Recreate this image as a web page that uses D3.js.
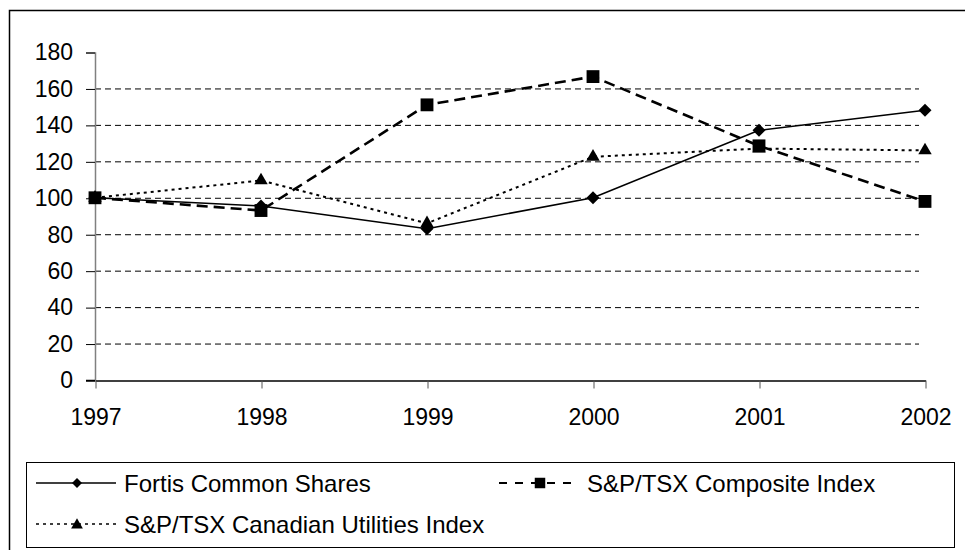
<!DOCTYPE html>
<html>
<head>
<meta charset="utf-8">
<script src="https://cdn.jsdelivr.net/npm/d3@7"></script>
<style>
  body { margin: 0; background: #fff; }
  svg { display: block; font-family: "Liberation Sans", Arial, sans-serif; }
</style>
</head>
<body>
<script>
// data
const years = [1997, 1998, 1999, 2000, 2001, 2002];
const fortis = [100, 95.5, 83, 100, 137, 148];
const composite = [100, 93, 151, 166.5, 128.5, 98];
const utilities = [100, 109.5, 86, 122.5, 127, 126];
const yTicks = [0, 20, 40, 60, 80, 100, 120, 140, 160, 180];

const width = 965, height = 550;

const series = [
  { name: "Fortis Common Shares", values: fortis, dash: null, sw: 1.6, marker: "diamond" },
  { name: "S&P/TSX Composite Index", values: composite, dash: "11,6", sw: 2.6, marker: "square" },
  { name: "S&P/TSX Canadian Utilities Index", values: utilities, dash: "3,4", sw: 2, marker: "triangle" }
];

const x = d3.scaleLinear().domain([1997, 2002]).range([95, 925]);
const y = d3.scaleLinear().domain([0, 180]).range([380, 52]);

const svg = d3.select("body").append("svg")
  .attr("width", width)
  .attr("height", height);

// chart border (right and bottom edges fall outside the window)
svg.append("rect")
  .attr("x", 9.5).attr("y", 10.5)
  .attr("width", 962).attr("height", 550)
  .attr("fill", "none").attr("stroke", "#000").attr("stroke-width", 1.5);

// gridlines
svg.append("g")
  .selectAll("line")
  .data(yTicks.filter(d => d > 0 && d < 180))
  .join("line")
  .attr("x1", x(1997)).attr("x2", x(2002) - 6)
  .attr("y1", d => y(d) + 0.5).attr("y2", d => y(d) + 0.5)
  .attr("stroke", "#000").attr("stroke-width", 1)
  .attr("stroke-dasharray", "6,4");

// y axis
const yAxis = svg.append("g")
  .attr("transform", `translate(${x(1997)},0.5)`)
  .call(d3.axisLeft(y).tickValues(yTicks).tickSize(9).tickPadding(13));
yAxis.select(".domain").attr("stroke", "#808080").attr("stroke-width", 1.5);
yAxis.selectAll(".tick line").attr("stroke", "#000");
yAxis.selectAll(".tick text")
  .attr("font-size", 23).attr("font-family", "Liberation Sans, Arial, sans-serif")
  .attr("fill", "#000");

// x axis
const xAxis = svg.append("g")
  .attr("transform", `translate(0.5,${y(0) + 0.5})`)
  .call(d3.axisBottom(x).tickValues(years).tickFormat(d3.format("d")).tickSize(8).tickPadding(20).tickSizeOuter(0));
xAxis.select(".domain").attr("stroke", "#000").attr("stroke-width", 1.5);
xAxis.selectAll(".tick line").attr("stroke", "#555");
xAxis.selectAll(".tick text")
  .attr("font-size", 23).attr("font-family", "Liberation Sans, Arial, sans-serif")
  .attr("fill", "#000");
// stub to the left of the x axis (the 0 tick)
svg.append("line")
  .attr("x1", 86).attr("x2", x(1997))
  .attr("y1", y(0) + 0.5).attr("y2", y(0) + 0.5)
  .attr("stroke", "#000").attr("stroke-width", 1.5);

// marker shapes
const rhombus = {
  draw(ctx, size) {
    const r = Math.sqrt(size / 2);
    ctx.moveTo(0, -r);
    ctx.lineTo(r, 0);
    ctx.lineTo(0, r);
    ctx.lineTo(-r, 0);
    ctx.closePath();
  }
};
const markerType = { diamond: rhombus, square: d3.symbolSquare, triangle: d3.symbolTriangle };
const markerSize = { diamond: 85, square: 165, triangle: 78 };
const legendSize = { diamond: 50, square: 110, triangle: 60 };

const line = d3.line()
  .x((d, i) => x(years[i]))
  .y(d => y(d));

series.forEach(s => {
  svg.append("path")
    .datum(s.values)
    .attr("d", line)
    .attr("fill", "none")
    .attr("stroke", "#000")
    .attr("stroke-width", s.sw)
    .attr("stroke-dasharray", s.dash);
});

series.forEach(s => {
  svg.append("g")
    .selectAll("path")
    .data(s.values)
    .join("path")
    .attr("transform", (d, i) => `translate(${x(years[i])},${y(d)})`)
    .attr("d", d3.symbol().type(markerType[s.marker]).size(markerSize[s.marker])())
    .attr("fill", "#000");
});

// legend
const legend = svg.append("g");
legend.append("rect")
  .attr("x", 26.5).attr("y", 462.5)
  .attr("width", 928).attr("height", 85)
  .attr("fill", "#fff").attr("stroke", "#000").attr("stroke-width", 1);

const legendPos = [
  { x: 36, y: 483 },
  { x: 499, y: 483 },
  { x: 36, y: 524 }
];

series.forEach((s, i) => {
  const p = legendPos[i];
  const g = legend.append("g").attr("transform", `translate(${p.x},${p.y})`);
  g.append("line")
    .attr("x1", 0).attr("x2", 80)
    .attr("stroke", "#000")
    .attr("stroke-width", s.marker === "square" ? 2 : (s.marker === "triangle" ? 1.5 : 1.6))
    .attr("stroke-dasharray", s.marker === "square" ? "8,8" : s.dash);
  g.append("path")
    .attr("transform", `translate(41,${s.marker === "triangle" ? 1 : 0})`)
    .attr("d", d3.symbol().type(markerType[s.marker]).size(legendSize[s.marker])())
    .attr("fill", "#000");
  g.append("text")
    .attr("x", 88).attr("y", 0).attr("dy", "0.36em")
    .attr("font-size", 24)
    .text(s.name);
});
</script>
</body>
</html>
